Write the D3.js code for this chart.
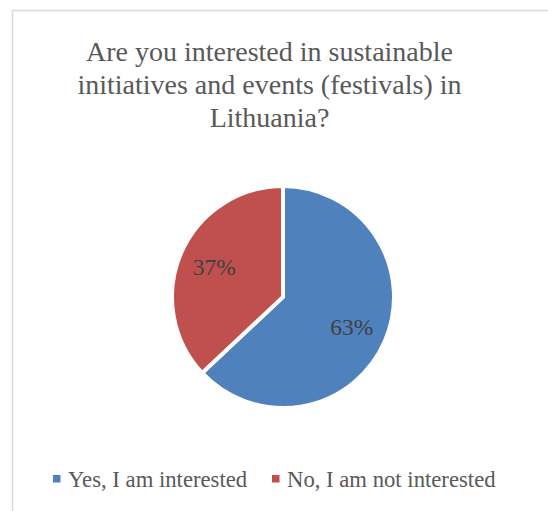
<!DOCTYPE html>
<html>
<head>
<meta charset="utf-8">
<script src="https://cdn.jsdelivr.net/npm/d3@7"></script>
<style>
  html, body { margin: 0; padding: 0; background: #fff; }
  svg { display: block; }
  text { font-family: "Liberation Serif", "Times New Roman", serif; }
</style>
</head>
<body>
<svg id="chart" width="548" height="511"></svg>
<script>
// Survey answers and their shares (percent)
const categories = ["Yes, I am interested", "No, I am not interested"];
const shares = [63, 37];
const colors = ["#4F81BD", "#C0504D"];
const titleLines = [
  "Are you interested in sustainable",
  "initiatives and events (festivals) in",
  "Lithuania?"
];

const svg = d3.select("#chart");

// chart frame (runs off the right and bottom edges)
svg.append("rect")
  .attr("x", 12.5).attr("y", 10.5)
  .attr("width", 560).attr("height", 520)
  .attr("fill", "none")
  .attr("stroke", "#d9d9d9")
  .attr("stroke-width", 1.5);

// title
svg.append("text")
  .attr("text-anchor", "middle")
  .attr("fill", "#595959")
  .style("font-size", "28px")
  .selectAll("tspan")
  .data(titleLines)
  .join("tspan")
  .attr("x", 269.5)
  .attr("y", (d, i) => 61 + i * 33)
  .text(d => d);

// pie
const cx = 283, cy = 297, r = 111;
const pie = d3.pie().sort(null).value(d => d.value);
const arcs = pie(categories.map((c, i) => ({ name: c, value: shares[i], color: colors[i] })));
const arc = d3.arc().innerRadius(0).outerRadius(r);

const g = svg.append("g").attr("transform", `translate(${cx},${cy})`);
g.selectAll("path")
  .data(arcs)
  .join("path")
  .attr("d", arc)
  .attr("fill", d => d.data.color)
  .attr("stroke", "#fff")
  .attr("stroke-width", 4)
  .attr("stroke-linejoin", "miter");

// data labels
const labelArc = d3.arc().innerRadius(75).outerRadius(75);
g.selectAll("text.lbl")
  .data(arcs)
  .join("text")
  .attr("class", "lbl")
  .attr("text-anchor", "middle")
  .attr("fill", "#404040")
  .style("font-size", "23.5px")
  .attr("x", d => labelArc.centroid(d)[0])
  .attr("y", d => labelArc.centroid(d)[1] + 8)
  .text(d => d.data.value + "%");

// legend
const legendX = [53, 272];
const legend = svg.selectAll("g.leg")
  .data(categories)
  .join("g")
  .attr("class", "leg")
  .attr("transform", (d, i) => `translate(${legendX[i]},487)`);
legend.append("rect")
  .attr("x", 0).attr("y", -12)
  .attr("width", 7.5).attr("height", 7.5)
  .attr("fill", (d, i) => colors[i]);
legend.append("text")
  .attr("x", 15).attr("y", 0)
  .attr("fill", "#595959")
  .style("font-size", "22.7px")
  .text(d => d);
</script>
</body>
</html>
